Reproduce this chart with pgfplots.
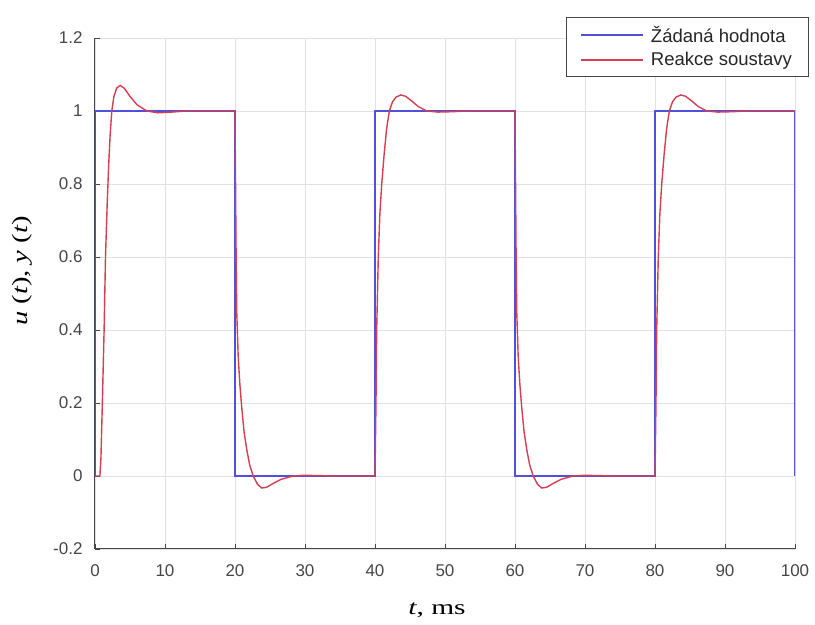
\documentclass[border=0pt]{standalone}
\usepackage{pgfplots}
\pgfplotsset{compat=1.18}
\usepackage{fontspec}
\setmainfont{Liberation Sans}
\newfontfamily\seriffont{Liberation Serif}
\definecolor{sp}{RGB}{80,80,220}
\definecolor{resp}{RGB}{215,62,82}
\definecolor{axc}{RGB}{70,70,70}
\definecolor{gridc}{RGB}{226,226,226}
\begin{document}
\begin{tikzpicture}
\begin{axis}[name=ax, scale only axis, width=700pt, height=511pt,
  xmin=0, xmax=100, ymin=-0.2, ymax=1.2,
  xtick={0,10,20,30,40,50,60,70,80,90,100},
  ytick={-0.2,0,0.2,0.4,0.6,0.8,1,1.2},
  yticklabels={-0.2,0,0.2,0.4,0.6,0.8,1,1.2},
  axis x line*=bottom, axis y line*=left,
  axis line style={-, draw=axc, line width=1pt},
  tick align=inside, major tick length=5pt,
  tick style={draw=axc, line width=0.9pt},
  grid=major, major grid style={draw=gridc, line width=0.8pt},
  ticklabel style={font=\fontsize{17}{20}\selectfont, text=axc},
  /pgf/number format/assume math mode=true,
  xticklabel style={yshift=-12pt},
  yticklabel style={xshift=-9pt},
  xlabel={\scalebox{1.4}[1]{\seriffont\fontsize{21}{25}\selectfont\itshape t\upshape, ms}},
  xlabel style={at={(axis description cs:0.4886,-0.1194)}, anchor=center},
  ylabel={\scalebox{1.3}[1]{\seriffont\fontsize{22}{26}\selectfont\itshape u\upshape~(\itshape t\upshape), \itshape y\upshape~(\itshape t\upshape)}},
  ylabel style={at={(axis description cs:-0.1043,0.544)}, anchor=center, rotate=0},
  legend style={at={(rel axis cs:1.0186,1.041)}, anchor=north east,
    draw=axc, fill=white,
    font=\fontsize{18.5}{21}\selectfont, text=black!85,
    inner xsep=14pt, inner ysep=7pt, row sep=4.5pt, column sep=5pt},
  legend cell align=left,
  legend image post style={xscale=3.63},
]
\addlegendimage{draw=sp, line width=1.8pt}
\addlegendentry{Žádaná hodnota}
\addlegendimage{draw=resp, line width=1.8pt}
\addlegendentry{Reakce soustavy}
\addplot[draw=sp, line width=1.4pt, forget plot] coordinates {
(0,0) (0,1) (20,1) (20,0) (40,0) (40,1) (60,1) (60,0) (80,0) (80,1) (100,1) (100,0)};
\addplot[draw=resp, line width=1.4pt, forget plot] coordinates {
(0,0) (0.7,0) (0.85,0.05) (1.05,0.2) (1.3,0.4) (1.5,0.6) (1.75,0.75) (1.95,0.85) (2.15,0.93) (2.4,1.0) (2.7,1.04) (3.1,1.063) (3.6,1.07) (4.2,1.062) (5.0,1.04) (6.0,1.017) (7.4,1.0) (9,0.995) (11,0.997) (13,1) (20,1)
(20.08,0.8) (20.16,0.6) (20.25,0.45) (20.45,0.33) (20.7,0.25) (20.95,0.19) (21.3,0.12) (21.7,0.07) (22.1,0.03) (22.6,0) (23.2,-0.022) (23.8,-0.033) (24.5,-0.031) (25.4,-0.021) (26.6,-0.009) (28.3,0) (30,0.002) (32,0.001) (34,0) (40,0)
(40.07,0.1) (40.14,0.2) (40.24,0.4) (40.47,0.6) (40.7,0.72) (40.96,0.8) (41.3,0.88) (41.65,0.95) (42.05,1.0) (42.5,1.025) (43.0,1.038) (43.7,1.044) (44.4,1.04) (45.2,1.028) (46.2,1.012) (47.4,1.0) (49,0.997) (51,0.998) (53,1) (60,1)
(60.08,0.8) (60.16,0.6) (60.25,0.45) (60.45,0.33) (60.7,0.25) (60.95,0.19) (61.3,0.12) (61.7,0.07) (62.1,0.03) (62.6,0) (63.2,-0.022) (63.8,-0.033) (64.5,-0.031) (65.4,-0.021) (66.6,-0.009) (68.3,0) (70,0.002) (72,0.001) (74,0) (80,0)
(80.07,0.1) (80.14,0.2) (80.24,0.4) (80.47,0.6) (80.7,0.72) (80.96,0.8) (81.3,0.88) (81.65,0.95) (82.05,1.0) (82.5,1.025) (83.0,1.038) (83.7,1.044) (84.4,1.04) (85.2,1.028) (86.2,1.012) (87.4,1.0) (89,0.997) (91,0.998) (93,1) (100,1)};
\end{axis}
\path ([xshift=-95pt,yshift=-76pt]ax.south west) rectangle ([xshift=20pt,yshift=38pt]ax.north east);
\end{tikzpicture}
\end{document}
